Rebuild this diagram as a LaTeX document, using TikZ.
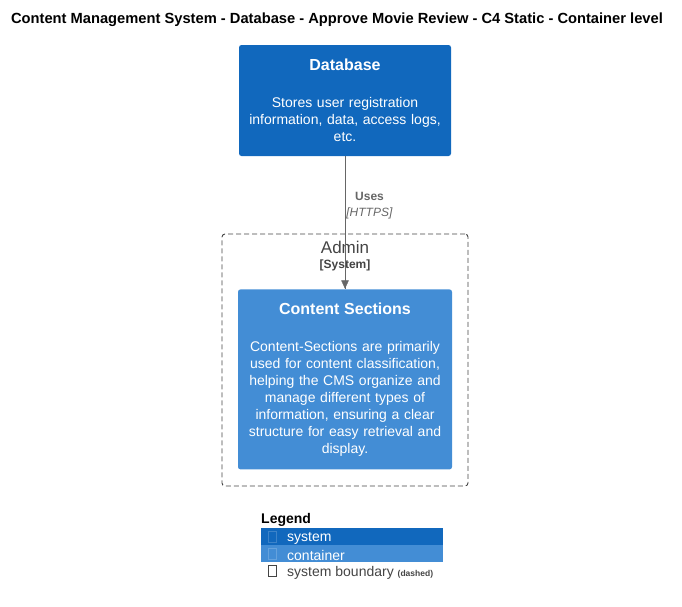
\documentclass[tikz,border=0pt]{standalone}
\usepackage{fontspec}
\setmainfont{Liberation Sans}
\usetikzlibrary{positioning, arrows.meta, decorations.markings}
\definecolor{SystemBlue}{HTML}{1168BD}
\definecolor{ContainerBlue}{HTML}{438DD5}
\definecolor{ArrowGrey}{HTML}{666666}
\definecolor{BoundaryGrey}{HTML}{444444}
\newcommand{\boxtitle}[1]{{\fontsize{16}{17}\selectfont\bfseries #1}}
\tikzstyle{Arrow} = [
    draw = ArrowGrey,
    decoration={
        markings,
        mark=at position 1 with {
            \arrow[ArrowGrey]{Triangle[length=9pt, width=8pt]}
        }
    },
    preaction = {decorate}
]

\begin{document}
\begin{tikzpicture}[
x=1pt, y=-1pt,
c4box/.style={
    rectangle,
    rounded corners=2.5pt,
    text=white,
    align=center,
    inner sep=0pt,
    font=\fontsize{14}{17}\selectfont
    },
boundary/.style={
    rectangle,
    rounded corners=3pt,
    draw=BoundaryGrey,
    line width=0.9pt,
    dash pattern=on 5pt off 3pt,
    inner sep=0pt
    },
legendrow/.style={
    rectangle,
    anchor=north west,
    minimum width=182pt,
    minimum height=17pt,
    inner sep=0pt,
    outer sep=0pt
    },
legendtext/.style={
    inner sep=0pt,
    font=\fontsize{14}{15}\selectfont
    },
tofu/.style={
    rectangle,
    minimum width=8pt,
    minimum height=11pt,
    inner sep=0pt,
    line width=0.6pt
    }
]
\useasboundingbox (0,0) rectangle (682,606);

\node [font=\fontsize{14.7}{16}\selectfont\bfseries] (title) at (337,20)
    {Content Management System - Database - Approve Movie Review - C4 Static - Container level};

\node [boundary, minimum width=246pt, minimum height=252pt] (admin) at (345,360) {};
\node [text=BoundaryGrey, font=\fontsize{17}{18}\selectfont] (adminname) at (345,247) {Admin};
\node [text=BoundaryGrey, font=\fontsize{12}{13}\selectfont\bfseries, below = 3pt of adminname, inner sep=0pt] (admintype) {[System]};

\node [c4box, fill=SystemBlue, minimum width=212pt, minimum height=111pt, text width=208pt] (database) at (345,100.5) {
    \boxtitle{Database}\\[20pt]
    Stores user registration\\
    information, data, access logs,\\
    etc.
};
\node [c4box, fill=ContainerBlue, minimum width=214pt, minimum height=180pt, text width=210pt, below = 133pt of database] (content) {
    \boxtitle{Content Sections}\\[20pt]
    Content-Sections are primarily\\
    used for content classification,\\
    helping the CMS organize and\\
    manage different types of\\
    information, ensuring a clear\\
    structure for easy retrieval and\\
    display.
};

\draw[Arrow, line width=0.8pt] (database) -- node[pos=0.37, anchor=west, inner sep=1pt, align=center, text=ArrowGrey, font=\fontsize{12}{16}\selectfont] (uses) {\textbf{Uses}\\\textit{[HTTPS]}} (content);

% legend
\node [anchor=west, inner sep=0pt, font=\fontsize{14}{16}\selectfont\bfseries] (legend) at (261,520) {Legend};
\node [legendrow, fill=SystemBlue] (legsystem) at (261,528) {};
\node [legendrow, fill=ContainerBlue, below = 0pt of legsystem] (legcontainer) {};
\node [legendrow, below = 0pt of legcontainer, minimum height=18pt] (legboundary) {};

\node [tofu, draw=white!18!SystemBlue, right = 7pt of legsystem.west] (tofusystem) {};
\node [tofu, draw=white!18!ContainerBlue, right = 7pt of legcontainer.west] (tofucontainer) {};
\node [tofu, draw=BoundaryGrey, right = 7pt of legboundary.west] (tofuboundary) {};

\node [legendtext, text=white, right = 26pt of legsystem.west, yshift=-2pt] (txtsystem) {system};
\node [legendtext, text=white, right = 26pt of legcontainer.west, yshift=-2pt] (txtcontainer) {container};
\node [legendtext, text=BoundaryGrey, right = 26pt of legboundary.west, yshift=-2pt] (txtboundary)
    {system boundary {\fontsize{8.5}{9}\selectfont\bfseries (dashed)}};

\end{tikzpicture}
\end{document}
